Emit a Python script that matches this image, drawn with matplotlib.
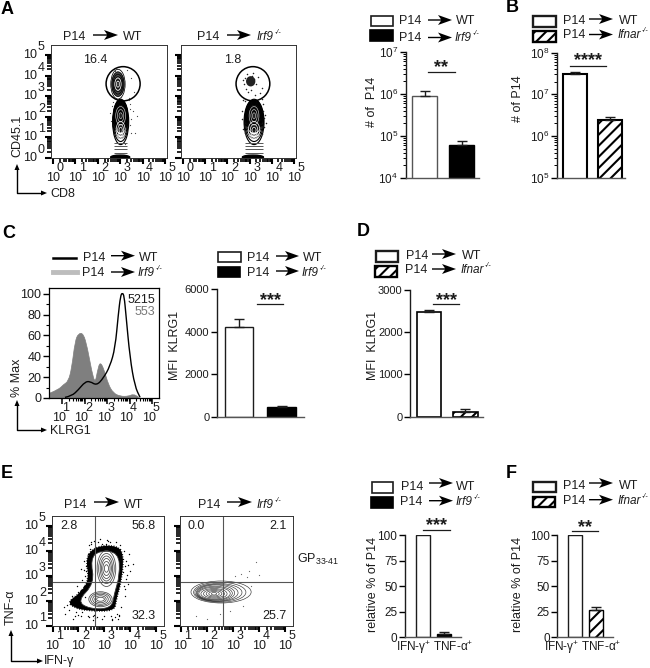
import matplotlib
matplotlib.use('Agg')
import matplotlib.pyplot as plt
import numpy as np
from matplotlib.patches import Ellipse, Polygon, Rectangle, PathPatch
from matplotlib.path import Path
from matplotlib.ticker import FixedLocator, NullFormatter

plt.rcParams['font.family'] = ['Liberation Sans', 'DejaVu Sans']
plt.rcParams['mathtext.fontset'] = 'custom'
plt.rcParams['mathtext.rm'] = 'Liberation Sans'
plt.rcParams['mathtext.it'] = 'Liberation Sans:italic'
plt.rcParams['hatch.linewidth'] = 1.5
plt.rcParams['font.size'] = 9

# Bar values
a_vals = [8.8e5, 6.2e4]
a_errs = [1.18e6, 7.6e4]
b_vals = [3.13e7, 2.42e6]
b_errs = [3.5e7, 2.8e6]
c_vals = [4198, 470]
c_errs = [4590, 517]
d_vals = [2471, 118]
d_errs = [2526, 174]
e_vals = [100, 3.3]
e_errs = [100, 4.6]
f_vals = [100, 26.6]
f_errs = [100, 29.8]

# Histogram of panel C (log10 KLRG1, % max)
hist_gray_x = [0.47, 0.84, 1.06, 1.28, 1.43, 1.58, 1.73, 1.95, 2.13, 2.32, 2.47, 2.57, 2.69, 2.87, 3.06, 3.28, 3.58, 3.95, 4.17, 4.39]
hist_gray_y = [4.8, 8, 12.8, 16, 28.8, 54.5, 62, 62, 48, 25.6, 14, 25.6, 35, 27.2, 12.8, 4.8, 1.6, 1.6, 3.8, 1]
hist_black_x = [1.13, 1.43, 1.73, 2.02, 2.24, 2.54, 2.84, 3.13, 3.36, 3.5, 3.6, 3.68, 3.76, 3.84, 4.02, 4.24, 4.47]
hist_black_y = [0.6, 1.9, 8, 15.4, 16, 12, 19.2, 30.4, 48, 80, 98, 101, 98, 80, 38.5, 11, 0.6]

# Contours of panel A, in decades
a_up_w = [0.32, 0.27, 0.22, 0.18, 0.12, 0.07]
a_up_h = [0.72, 0.6, 0.48, 0.36, 0.22, 0.1]
a_low_cy = [1.75, 1.8, 1.85, 1.9, 1.95, 2.0, 2.0, 2.05, 2.05, 2.05, 2.05, 2.05]
a_low_h = [1.1, 1.0, 0.9, 0.8, 0.7, 0.6, 0.52, 0.45, 0.38, 0.3, 0.22, 0.14]
a_low_w = [0.36, 0.34, 0.32, 0.3, 0.28, 0.26, 0.23, 0.2, 0.17, 0.14, 0.1, 0.06]
a_tip_cy = [1.35, 1.35, 1.35]
a_tip_w = [0.2, 0.13, 0.07]
a_tip_h = [0.42, 0.28, 0.14]
a_core_w = [0.22, 0.14, 0.07]
a_core_h = [0.45, 0.3, 0.14]
a_rungs = [0.74, 0.58, 0.42, 0.25]
a_dots_x = [2.75, 3.3, 3.5, 3.6, 3.4, 2.6, 3.55, 3.75, 3.45, 3.2, 3.65, 2.55, 2.7, 3.45, 3.5, 2.6, 3.42, 3.48, 2.62, 3.38, 2.95, 3.05]
a_dots_y = [4.2, 4.25, 3.9, 3.2, 2.9, 3.3, 2.3, 2.05, 1.6, 0.7, 1.2, 2.2, 2.7, 2.6, 1.9, 1.8, 2.4, 1.2, 2.5, 2.8, 4.3, 2.95]
a2_dots_x = [2.8, 2.9, 3.0, 3.1, 3.2, 2.85, 3.05, 2.75, 3.3, 3.4, 3.55, 2.95, 3.15, 2.7, 3.45, 3.6, 3.7, 2.65, 3.75, 3.25, 2.72, 3.62, 2.68, 3.66, 2.78, 3.58, 2.7, 3.65, 2.8, 3.55]
a2_dots_y = [3.9, 4.05, 3.8, 4.0, 3.85, 3.35, 3.3, 3.6, 3.6, 3.95, 3.4, 3.2, 4.1, 3.8, 3.15, 2.6, 2.1, 2.3, 1.7, 3.05, 2.8, 2.3, 1.9, 1.5, 2.75, 2.85, 1.4, 1.95, 1.2, 1.15]

# Contours of panel E, in decades
e_ring_x = [1.6, 2.05, 2.42, 2.27, 2.68, 3.5, 3.75, 3.66, 3.45, 3.4, 2.38, 1.8]
e_ring_y = [1.98, 2.3, 2.85, 3.75, 4.2, 4.22, 3.85, 2.8, 2.03, 1.6, 1.6, 1.74]
e_outer_x = [1.95, 2.62, 2.46, 2.8, 3.55, 3.6, 3.38, 3.28, 2.42]
e_outer_y = [2.0, 2.7, 3.68, 4.02, 3.95, 3.05, 2.28, 1.7, 1.68]
e_up_w = [0.36, 0.3, 0.24, 0.19, 0.14, 0.08]
e_up_h = [0.72, 0.6, 0.5, 0.4, 0.28, 0.15]
e_low_w = [0.45, 0.38, 0.3, 0.22, 0.15]
e_low_h = [0.3, 0.25, 0.2, 0.14, 0.08]
e_dots_x = [1.55, 1.7, 1.9, 2.0, 2.1, 2.2, 2.25, 1.8, 2.3, 2.15, 2.05, 2.4, 2.55, 2.7, 3.0, 3.3, 3.5, 3.8, 3.9, 4.0, 3.85, 3.75, 3.95, 4.1, 2.2, 2.35, 2.45, 2.5, 3.1, 3.6,
            2.0, 1.65, 2.6, 2.9, 3.2, 3.7, 3.8, 1.95, 2.25, 2.1, 1.45, 1.5, 1.75, 1.85, 2.12, 2.18, 2.32, 2.28, 2.22, 2.38, 2.42, 2.48, 2.6, 2.75, 2.85, 3.05, 3.15, 3.25, 3.4, 3.55,
            3.65, 3.82, 3.78, 3.88, 3.72, 3.75, 3.92, 3.6, 3.45, 3.52, 3.58, 3.3, 2.9, 2.65, 2.55, 2.48, 1.72, 1.92, 1.98, 2.08]
e_dots_y = [1.85, 2.05, 1.55, 2.35, 1.4, 2.6, 3.0, 1.3, 3.4, 2.85, 1.75, 1.35, 1.25, 1.35, 1.4, 1.3, 1.5, 2.2, 2.7, 3.2, 3.6, 4.0, 3.9, 3.5, 3.6, 3.9, 4.1, 4.3, 4.45, 4.25,
            1.95, 1.65, 1.45, 4.3, 4.35, 3.15, 2.5, 2.6, 2.15, 3.3, 1.75, 1.5, 2.2, 1.4, 1.55, 2.45, 2.75, 3.2, 3.25, 1.42, 4.25, 4.35, 4.4, 4.38, 4.5, 4.28, 4.42, 1.42, 1.38, 1.45,
            1.75, 2.9, 3.4, 3.05, 3.7, 2.6, 3.45, 4.1, 4.35, 1.3, 1.4, 1.25, 1.28, 1.32, 1.42, 3.8, 1.9, 2.2, 1.45, 2.45]
e2_cx = [2.55, 2.5, 2.45, 2.4, 2.35, 2.32, 2.3, 2.28, 2.28, 2.28, 2.28, 2.28]
e2_cy = [2.36, 2.35, 2.34, 2.33, 2.32, 2.31, 2.3, 2.29, 2.29, 2.29, 2.29, 2.29]
e2_w = [1.15, 1.0, 0.9, 0.8, 0.72, 0.66, 0.6, 0.5, 0.4, 0.3, 0.2, 0.1]
e2_h = [0.44, 0.4, 0.36, 0.34, 0.32, 0.28, 0.25, 0.21, 0.17, 0.13, 0.09, 0.05]
e2_dots_x = [1.6, 2.5, 3.1, 3.3, 3.6, 3.55, 4.0, 3.9, 3.7, 2.0, 3.4, 2.9]
e2_dots_y = [1.4, 1.5, 3.0, 3.1, 3.2, 2.95, 3.05, 3.55, 2.6, 1.3, 1.8, 1.6]

dark = '#1c1c1c'
fig = plt.figure(figsize=(6.5, 6.68), dpi=100)
bg = fig.add_axes([0, 0, 1, 1], zorder=5)
bg.set_xlim(0, 650)
bg.set_ylim(668, 0)
bg.axis('off')


def ax_px(l, t, r, b):
    return fig.add_axes([l / 650, 1 - b / 668, (r - l) / 650, (b - t) / 668])


def label(x, y, s, **kw):
    kw.setdefault('va', 'center')
    kw.setdefault('color', dark)
    kw.setdefault('fontsize', 9)
    return bg.text(x, y, s, **kw)


def arrow(x0, x1, y):
    pts = [(x0, y - 0.7), (x1 - 11, y - 0.7), (x1 - 14, y - 5), (x1, y), (x1 - 14, y + 5), (x1 - 11, y + 0.7), (x0, y + 0.7)]
    bg.add_patch(Polygon(pts, closed=True, color='black', lw=0))


def header(xp, yp, x0, x1, ya, xn, yn, name):
    label(xp, yp, 'P14')
    arrow(x0, x1, ya)
    if name == 'WT':
        label(xn, yn, name)
    else:
        # gene name in italics with a tiny -/- after it
        t = label(xn, yn, name, style='italic', fontsize=8.5)
        bg.annotate('-/-', xy=(1, 0.85), xycoords=t, xytext=(0.3, 0), textcoords='offset points',
                    fontsize=5, style='italic', va='center', color=dark)


def box(l, t, r, b, kind, lw=1.2):
    if kind == 'black':
        bg.add_patch(Rectangle((l, t), r - l, b - t, fc='black', ec='black', lw=lw))
    elif kind == 'hatch':
        bg.add_patch(Rectangle((l, t), r - l, b - t, fc='white', ec='black', lw=lw, hatch='///'))
    else:
        bg.add_patch(Rectangle((l, t), r - l, b - t, fc='white', ec=dark, lw=lw))


def corner(x, y0, y1, x1):
    bg.plot([x, x, x1 - 5], [y1 + 5, y0, y0], color='black', lw=1.0)
    bg.add_patch(Polygon([(x - 2.5, y1 + 6), (x, y1), (x + 2.5, y1 + 6)], color='black', lw=0))
    bg.add_patch(Polygon([(x1 - 6, y0 - 2.5), (x1, y0), (x1 - 6, y0 + 2.5)], color='black', lw=0))


def smooth(xs, ys):
    # closed quadratic spline through the midpoints of the read outline
    pts = np.column_stack([xs, ys])
    mids = (pts + np.roll(pts, -1, axis=0)) / 2
    verts = [mids[-1]]
    codes = [Path.MOVETO]
    for i in range(len(pts)):
        verts += [pts[i], mids[i]]
        codes += [Path.CURVE3, Path.CURVE3]
    return Path(verts, codes)


def smooth_open(xs, ys, close_base=None):
    # same spline but open, optionally closed down to a baseline
    pts = np.column_stack([xs, ys])
    verts = [pts[0]]
    codes = [Path.MOVETO]
    for i in range(1, len(pts) - 1):
        verts += [pts[i], (pts[i] + pts[i + 1]) / 2]
        codes += [Path.CURVE3, Path.CURVE3]
    verts.append(pts[-1])
    codes.append(Path.LINETO)
    if close_base is not None:
        verts += [(pts[-1][0], close_base), (pts[0][0], close_base), pts[0]]
        codes += [Path.LINETO, Path.LINETO, Path.CLOSEPOLY]
    return Path(verts, codes)


def decade_ticks(axis, lo, hi):
    major = list(range(lo, hi + 1))
    minor = [k + np.log10(m) for k in range(lo, hi) for m in range(2, 10)]
    axis.set_major_locator(FixedLocator(major))
    axis.set_minor_locator(FixedLocator(minor))
    axis.set_major_formatter(NullFormatter())
    axis.set_minor_formatter(NullFormatter())


def facs_axes(l, t, r, b, x_lo, xlim, ylim, ylabels, y_lo, y_hi):
    ax = ax_px(l, t, r, b)
    ax.set_xlim(*xlim)
    ax.set_ylim(*ylim)
    decade_ticks(ax.xaxis, x_lo, 5)
    decade_ticks(ax.yaxis, y_lo, y_hi)
    ax.tick_params(which='major', length=4.5, width=1.5, color='black')
    ax.tick_params(which='minor', length=3, width=1.2, color='black')
    for s in ax.spines.values():
        s.set_linewidth(0.7)
        s.set_color('#333333')
    for k in range(x_lo, 6):
        ax.annotate('10', xy=(k, 0), xycoords=('data', 'axes fraction'), xytext=(0, -20), textcoords='offset pixels',
                    ha='center', va='center', color=dark, fontsize=9)
        ax.annotate(str(k), xy=(k, 0), xycoords=('data', 'axes fraction'), xytext=(7, -10), textcoords='offset pixels',
                    ha='center', va='center', color=dark, fontsize=9)
    if ylabels:
        for k in range(y_lo, y_hi + 1):
            ax.annotate('10', xy=(0, k), xycoords=('axes fraction', 'data'), xytext=(-14, 0), textcoords='offset pixels',
                        ha='right', va='center', color=dark, fontsize=9)
            ax.annotate(str(k), xy=(0, k), xycoords=('axes fraction', 'data'), xytext=(-13, 8), textcoords='offset pixels',
                        ha='left', va='center', color=dark, fontsize=9)
    return ax


def rings(ax, cx, cy, ws, hs, lw=0.5, color='black'):
    cxs = cx if np.ndim(cx) else [cx] * len(ws)
    cys = cy if np.ndim(cy) else [cy] * len(ws)
    for x, y, w, h in zip(cxs, cys, ws, hs):
        ax.add_patch(Ellipse((x, y), 2 * w, 2 * h, fc='none', ec=color, lw=lw))


def bar_axes(l, t, r, b, pos0, step, vals, errs, ylim, kind, edge, elw, log=False):
    ax = ax_px(l, t, r, b)
    if log:
        ax.set_yscale('log')
    xs = np.arange(len(vals))
    lo = (l - pos0) / step
    hi = (r - pos0) / step
    ax.set_xlim(lo, hi)
    ax.set_ylim(*ylim)
    ax.bar(xs[0], vals[0], 0.67, color='white', edgecolor=edge, lw=elw)
    if kind == 'black':
        ax.bar(xs[1], vals[1], 0.67, color='black', edgecolor='black', lw=elw)
    else:
        ax.bar(xs[1], vals[1], 0.67, color='white', edgecolor='black', lw=elw, hatch='///')
    for x, v, e in zip(xs, vals, errs):
        if e > v:
            ax.errorbar(x, v, yerr=[[0], [e - v]], color=dark, capsize=3.8, lw=1.0, capthick=1.0)
    for side in ['top', 'right']:
        ax.spines[side].set_visible(False)
    ax.spines['bottom'].set_color('#555555')
    ax.spines['bottom'].set_linewidth(1.0)
    ax.spines['left'].set_color(dark)
    ax.spines['left'].set_linewidth(1.0)
    ax.set_xticks([])
    ax.tick_params(axis='y', which='major', length=4, width=1.0, labelsize=8.5, pad=1.5, labelcolor=dark)
    ax.tick_params(axis='y', which='minor', length=2, width=0.7)
    return ax


def log_labels(ax, lo, hi):
    ax.set_yticks([10.0 ** k for k in range(lo, hi + 1)])
    ax.set_yticklabels(['$10^{%d}$' % k for k in range(lo, hi + 1)])
    ax.yaxis.set_minor_locator(FixedLocator([m * 10.0 ** k for k in range(lo, hi) for m in range(2, 10)]))
    ax.yaxis.set_minor_formatter(NullFormatter())


def sig(x0, x1, y, stars, ys):
    bg.plot([x0, x1], [y, y], color=dark, lw=0.9)
    label((x0 + x1) / 2, ys, stars, ha='center', fontsize=13, fontweight='bold')


irf9 = 'Irf9'
ifnar = 'Ifnar'

# panel letters
for x, y, s in [(1, 9, 'A'), (506, 8, 'B'), (2, 233, 'C'), (357, 232, 'D'), (1, 473, 'E'), (506, 473, 'F')]:
    label(x, y, s, fontsize=13, fontweight='bold', color='black')

# A: FACS
header(63, 37, 93, 118, 35, 122.5, 37, 'WT')
header(197, 37, 227, 251, 35, 257, 37, irf9)
a_xlim = (-0.09, 5.09)
a_ylim = (0, 5.48)
ax = facs_axes(51, 45, 167, 158, 0, a_xlim, a_ylim, True, 0, 5)
ax.add_patch(Ellipse((2.9, 3.58), 0.6, 1.2, fc='#444444', ec='none'))
rings(ax, 2.9, 3.58, a_up_w, a_up_h, lw=0.55)
rings(ax, 2.9, 3.58, a_core_w[1:], a_core_h[1:], lw=0.5, color='white')
ax.add_patch(Ellipse((3.02, 2.05), 0.68, 1.6, fc='#222222', ec='none'))
rings(ax, 3.02, a_low_cy, a_low_w, a_low_h, lw=0.8)
rings(ax, 3.02, 2.05, a_core_w, a_core_h, lw=0.45, color='#cccccc')
rings(ax, 3.02, a_tip_cy, a_tip_w, a_tip_h, lw=0.5, color='white')
ax.hlines(a_rungs, 2.72, 3.32, color='#555555', lw=0.7)
ax.add_patch(Ellipse((3.0, 0.04), 0.85, 0.2, fc='black', ec='black'))
ax.add_patch(Ellipse((3.13, 3.6), 2 * 0.76, 2 * 0.83, fc='none', ec='black', lw=1.1))
ax.scatter(a_dots_x, a_dots_y, s=0.8, color='#444444', lw=0)
label(83, 60, '16.4')

ax = facs_axes(181, 45, 296, 158, 0, a_xlim, a_ylim, False, 0, 5)
ax.add_patch(Ellipse((3.2, 2.05), 0.82, 1.6, fc='#222222', ec='none'))
rings(ax, 3.2, a_low_cy, [w * 1.25 for w in a_low_w], a_low_h, lw=0.8)
rings(ax, 3.2, 2.05, a_core_w, a_core_h, lw=0.45, color='#cccccc')
rings(ax, 3.2, a_tip_cy, [w * 1.3 for w in a_tip_w], a_tip_h, lw=0.5, color='white')
ax.hlines(a_rungs, 2.8, 3.6, color='#555555', lw=0.7)
ax.add_patch(Ellipse((3.15, 0.04), 0.95, 0.2, fc='black', ec='black'))
ax.add_patch(Ellipse((3.05, 3.72), 0.42, 0.5, fc='#222222', ec='none'))
ax.add_patch(Ellipse((3.15, 3.6), 2 * 0.76, 2 * 0.83, fc='none', ec='black', lw=1.1))
ax.scatter(a2_dots_x, a2_dots_y, s=1.2, color='#222222', lw=0)
label(224, 60, '1.8')

label(17, 136, 'CD45.1', rotation=90, ha='center')
corner(17, 193, 164, 47)
label(50, 194, 'CD8')

# A: bars
header(399, 21, 428, 452, 20, 456, 21, 'WT')
header(399, 38, 428, 452, 37.5, 455, 38, irf9)
box(371, 16, 393, 26, 'white')
box(370, 30, 393, 41, 'black')
ax = bar_axes(405.7, 52, 479, 178, 424.7, 36.8, a_vals, a_errs, (1e4, 1e7), 'black', '#555555', 1.0, log=True)
log_labels(ax, 4, 7)
sig(428, 455, 72, '**', 68)
label(372, 102, '# of  P14', rotation=90, ha='center')

# B: bars
header(563, 21, 589, 613, 19, 619, 21, 'WT')
header(563, 35, 589, 613, 34.5, 618, 35, ifnar)
box(533, 16, 556, 27, 'white', lw=1.7)
box(533, 31, 556, 42, 'hatch', lw=1.7)
ax = bar_axes(557.3, 52.7, 625, 177.7, 574.7, 35.5, b_vals, b_errs, (1e5, 1e8), 'hatch', 'black', 1.5, log=True)
log_labels(ax, 5, 8)
sig(570, 606, 65.5, '****', 61)
label(518, 99, '# of P14', rotation=90, ha='center')

# C: histogram
header(83, 258, 111, 135, 255.7, 139, 258, 'WT')
header(82, 273, 111, 135, 272, 138, 273, irf9)
bg.plot([53, 76], [257.7, 257.7], color='black', lw=1.8)
bg.plot([53, 77], [272, 272], color='#bdbdbd', lw=3.5)
ax = ax_px(49, 288, 159, 398)
ax.set_xlim(0.42, 5.31)
ax.set_ylim(0, 105.5)
ax.add_patch(PathPatch(smooth_open(hist_gray_x, hist_gray_y, close_base=0), fc='#7f7f7f', ec='#7f7f7f', lw=0.5))
ax.add_patch(PathPatch(smooth_open(hist_black_x, hist_black_y), fc='none', ec='black', lw=1.0))
decade_ticks(ax.xaxis, 1, 5)
ax.tick_params(axis='x', which='major', length=4, width=1.1)
ax.tick_params(axis='x', which='minor', length=2.5, width=0.8)
ax.set_yticks([0, 20, 40, 60, 80, 100])
ax.yaxis.set_minor_locator(FixedLocator([10, 30, 50, 70, 90]))
ax.tick_params(axis='y', which='major', length=4, width=1.0, labelsize=9, pad=1.5, labelcolor=dark)
ax.tick_params(axis='y', which='minor', length=2.5, width=0.8)
for s in ax.spines.values():
    s.set_linewidth(0.9)
for k in range(1, 6):
    ax.annotate('10', xy=(k, 0), xycoords=('data', 'axes fraction'), xytext=(-3, -20), textcoords='offset pixels',
                ha='center', va='center', color=dark, fontsize=9)
    ax.annotate(str(k), xy=(k, 0), xycoords=('data', 'axes fraction'), xytext=(4, -10), textcoords='offset pixels',
                ha='center', va='center', color=dark, fontsize=9)
label(128, 300, '5215')
label(135, 312, '553', color='#777777')
label(17, 378, '% Max', rotation=90, ha='center')
corner(17, 430, 400, 47)
label(50, 431, 'KLRG1')

# C: bars
header(247, 258, 276, 299, 256, 303, 258, 'WT')
header(247, 273, 276, 299, 271, 302, 273, irf9)
box(218, 252, 241, 262, 'white')
box(218, 267, 240, 277, 'black')
ax = bar_axes(217, 289, 304, 416.7, 239.2, 42.5, c_vals, c_errs, (0, 6000), 'black', dark, 1.0)
ax.set_yticks([0, 2000, 4000, 6000])
ax.tick_params(axis='y', labelsize=8)
sig(257, 283, 304, '***', 301)
label(175, 345, 'MFI  KLRG1', rotation=90, ha='center')

# D: bars
header(406, 256, 432, 456, 254, 462, 256, 'WT')
header(405, 270, 432, 456, 269, 461, 270, ifnar)
box(376, 251, 398, 262, 'white', lw=1.7)
box(375, 266, 397, 277, 'hatch', lw=1.7)
ax = bar_axes(410.3, 290, 483, 416.7, 428.8, 36.5, d_vals, d_errs, (0, 3000), 'hatch', 'black', 1.2)
ax.set_yticks([0, 1000, 2000, 3000])
ax.tick_params(axis='y', labelsize=8)
sig(433, 459, 304, '***', 301)
label(373, 345, 'MFI  KLRG1', rotation=90, ha='center')

# E: FACS
header(64, 505, 94, 119, 502, 124, 505, 'WT')
header(198, 505, 227, 252, 502, 257, 505, irf9)
e_xlim = (0.98, 5.3)
e_ylim = (1, 5.4)
ax = facs_axes(52, 516, 164, 626, 1, e_xlim, e_ylim, True, 1, 5)
ax.add_patch(PathPatch(smooth(e_ring_x, e_ring_y), fc='black', ec='black', lw=1.2, ls=(0, (0.5, 1))))
ax.add_patch(PathPatch(smooth(e_outer_x, e_outer_y), fc='white', ec='#333333', lw=0.6))
rings(ax, 3.08, 3.3, e_up_w, e_up_h, lw=0.55, color='#444444')
rings(ax, 2.85, 2.07, e_low_w, e_low_h, lw=0.55, color='#444444')
ax.scatter(e_dots_x, e_dots_y, s=1.0, color='black', lw=0)
ax.axvline(2.62, color='#555555', lw=0.8)
ax.axhline(2.76, color='#555555', lw=0.8)
label(60, 526, '2.8')
label(132, 526, '56.8')
label(132, 616, '32.3')

ax = facs_axes(180, 516, 293, 626, 1, e_xlim, e_ylim, False, 1, 5)
rings(ax, e2_cx, e2_cy, e2_w, e2_h, lw=0.45, color='#333333')
ax.scatter(e2_dots_x, e2_dots_y, s=0.8, color='#666666', lw=0)
ax.axvline(2.62, color='#555555', lw=0.8)
ax.axhline(2.76, color='#555555', lw=0.8)
label(188, 526, '0.0')
label(269, 526, '2.1')
label(262, 616, '25.7')
label(297, 559, r'GP$_{33\text{-}41}$')
label(11, 607, 'TNF-α', rotation=90, ha='center')
corner(11, 661, 630, 43)
label(44, 661, 'IFN-γ')

# E: bars
header(401, 487, 429, 453, 483, 456, 487, 'WT')
header(400, 502, 429, 453, 500.7, 456, 502, irf9)
box(372, 482, 393, 493, 'white')
box(371, 497, 393, 508, 'black')
ax = bar_axes(405, 535.3, 460.7, 637, 422.7, 21.3, e_vals, e_errs, (0, 100), 'black', dark, 1.0)
ax.set_ylim(0, 100)
ax.set_yticks([0, 25, 50, 75, 100])
sig(423, 450, 529.7, '***', 526)
label(373, 584, 'relative % of P14', rotation=90, ha='center')
label(435, 648, 'IFN-γ$^{+}$ TNF-α$^{+}$', ha='center', fontsize=8.5)

# F: bars
header(563, 486, 589, 613, 483, 619, 486, 'WT')
header(563, 501, 589, 613, 499.7, 618, 501, ifnar)
box(533, 482, 556, 492, 'white', lw=1.7)
box(533, 497, 555, 507, 'hatch', lw=1.7)
ax = bar_axes(557.3, 535.3, 612.7, 637, 575, 20.7, f_vals, f_errs, (0, 100), 'hatch', dark, 1.0)
ax.set_yticks([0, 25, 50, 75, 100])
sig(572, 598, 531.3, '**', 528)
label(518, 584, 'relative % of P14', rotation=90, ha='center')
label(583, 648, 'IFN-γ$^{+}$ TNF-α$^{+}$', ha='center', fontsize=8.5)

fig.savefig('out.png', dpi=100)
